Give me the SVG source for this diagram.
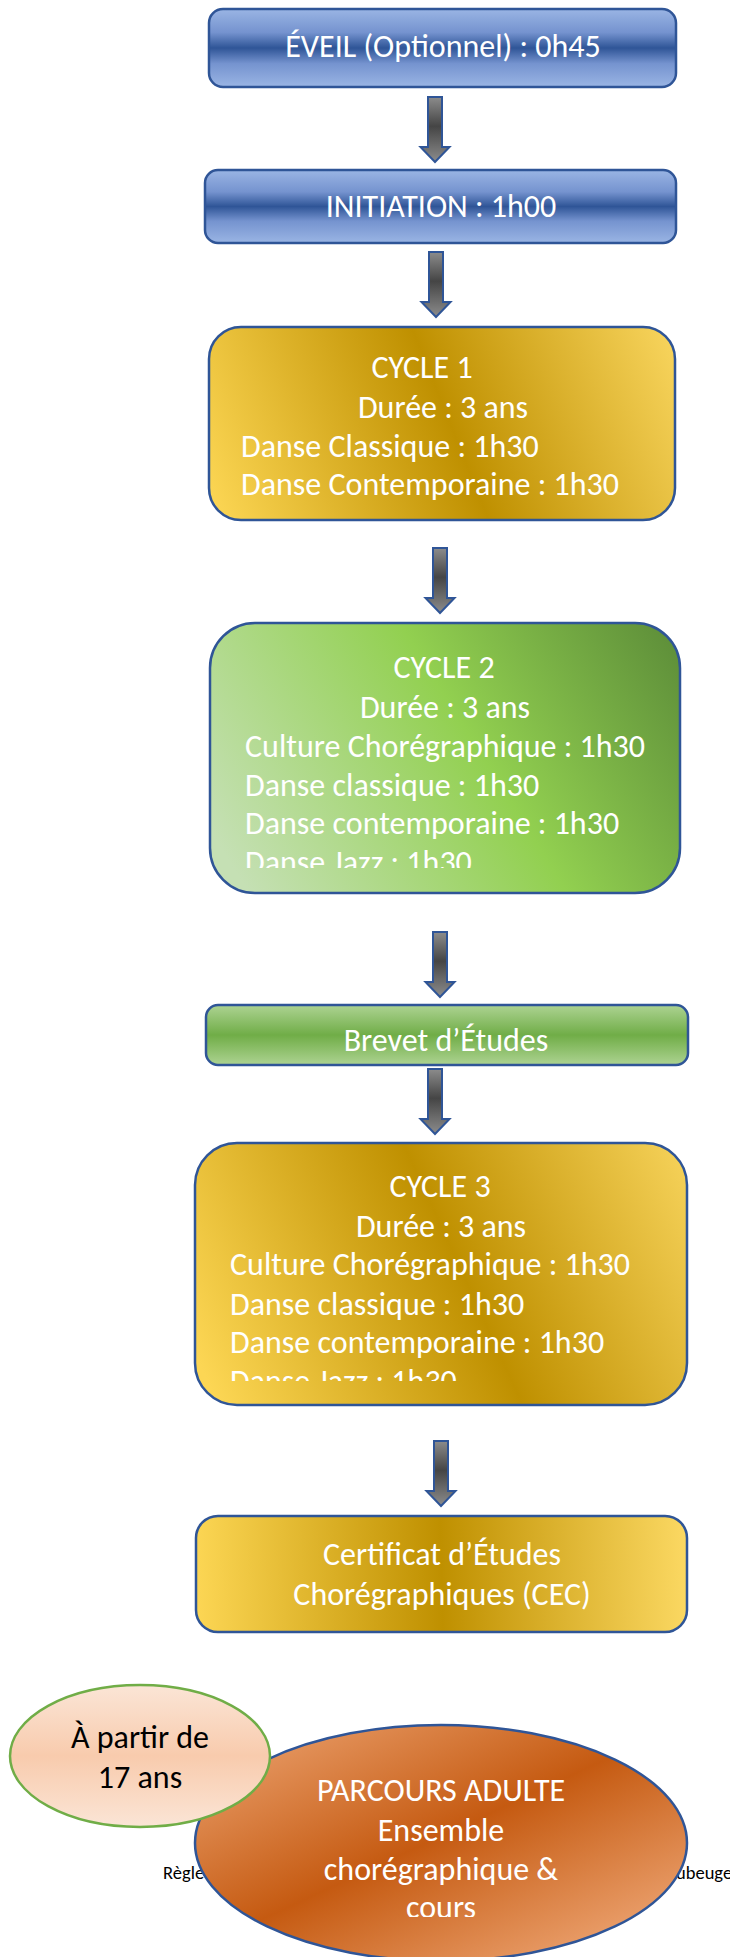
<svg xmlns="http://www.w3.org/2000/svg" width="730" height="1957" viewBox="0 0 730 1957">
<style>
.box{stroke:#2f5597;stroke-width:2.5}
.t{font-family:Carlito,Calibri,Lato,"Liberation Sans",sans-serif;font-size:32px;fill:#ffffff}
.m{text-anchor:middle}
.dk{fill:#000000}
.sm{font-size:18.5px}
.arrow{fill:url(#gArrow);stroke:#2f5597;stroke-width:2;stroke-linejoin:miter}
</style>
<defs>
<linearGradient id="gBlue" x1="0" y1="0" x2="0" y2="1">
<stop offset="0" stop-color="#9ab5e4"/>
<stop offset="0.3" stop-color="#7593cf"/>
<stop offset="0.5" stop-color="#2f5597"/>
<stop offset="0.7" stop-color="#7593cf"/>
<stop offset="1" stop-color="#9ab5e4"/>
</linearGradient>
<linearGradient id="gBrevet" x1="0" y1="0" x2="0" y2="1">
<stop offset="0" stop-color="#add392"/>
<stop offset="0.5" stop-color="#70ad47"/>
<stop offset="1" stop-color="#add392"/>
</linearGradient>
<linearGradient id="gGold1" gradientUnits="userSpaceOnUse" x1="215" y1="517" x2="685" y2="329">
<stop offset="0" stop-color="#fcd654"/>
<stop offset="0.5" stop-color="#bf9000"/>
<stop offset="1" stop-color="#fbd862"/>
</linearGradient>
<linearGradient id="gGold3" gradientUnits="userSpaceOnUse" x1="211" y1="1389" x2="715" y2="1159">
<stop offset="0" stop-color="#fcd654"/>
<stop offset="0.5" stop-color="#bf9000"/>
<stop offset="1" stop-color="#fbd862"/>
</linearGradient>
<linearGradient id="gGoldC" gradientUnits="userSpaceOnUse" x1="196" y1="1580" x2="687" y2="1568">
<stop offset="0" stop-color="#fcd654"/>
<stop offset="0.5" stop-color="#bf9000"/>
<stop offset="1" stop-color="#fbd862"/>
</linearGradient>
<linearGradient id="gGreen" gradientUnits="userSpaceOnUse" x1="253" y1="900" x2="713" y2="615">
<stop offset="0" stop-color="#c5e0b4"/>
<stop offset="0.5" stop-color="#92d050"/>
<stop offset="1" stop-color="#548235"/>
</linearGradient>
<linearGradient id="gOrange" gradientUnits="userSpaceOnUse" x1="352" y1="1645" x2="530" y2="2027">
<stop offset="0" stop-color="#f0aa7a"/>
<stop offset="0.5" stop-color="#c55a11"/>
<stop offset="1" stop-color="#f4b183"/>
</linearGradient>
<linearGradient id="gPeach" x1="0" y1="0" x2="0" y2="1">
<stop offset="0" stop-color="#fbe5d6"/>
<stop offset="0.5" stop-color="#f8cbad"/>
<stop offset="1" stop-color="#fbe5d6"/>
</linearGradient>
<linearGradient id="gArrow" x1="0" y1="0" x2="0" y2="1">
<stop offset="0" stop-color="#8c8c8c"/>
<stop offset="0.45" stop-color="#454545"/>
<stop offset="1" stop-color="#8c8c8c"/>
</linearGradient>
<path id="arrowShape" d="M-7,0 H7 V50 H14.5 L0,65 L-14.5,50 H-7 Z"/>
<clipPath id="clip2"><rect x="0" y="600" width="730" height="268"/></clipPath>
<clipPath id="clip3"><rect x="0" y="1150" width="730" height="231"/></clipPath>
<clipPath id="clipA"><rect x="0" y="1700" width="730" height="217"/></clipPath>
</defs>
<rect x="0" y="0" width="730" height="1957" fill="#ffffff"/>

<g id="connectors">
<use href="#arrowShape" class="arrow" x="435" y="97"/>
<use href="#arrowShape" class="arrow" x="436" y="252"/>
<use href="#arrowShape" class="arrow" x="440" y="548"/>
<use href="#arrowShape" class="arrow" x="440" y="932"/>
<use href="#arrowShape" class="arrow" x="435" y="1069"/>
<use href="#arrowShape" class="arrow" x="441" y="1441"/>
</g>

<g id="eveil">
<rect class="box" x="209" y="9" width="467" height="78" rx="14" fill="url(#gBlue)"/>
<text class="t m" x="443" y="57">ÉVEIL (Optionnel) : 0h45</text>
</g>

<g id="initiation">
<rect class="box" x="205" y="170" width="471" height="73" rx="13" fill="url(#gBlue)"/>
<text class="t m" x="441" y="217">INITIATION : 1h00</text>
</g>

<g id="cycle1">
<rect class="box" x="209" y="327" width="466" height="193" rx="32" fill="url(#gGold1)"/>
<text class="t m" x="422" y="378">CYCLE 1</text>
<text class="t m" x="443" y="418">Durée : 3 ans</text>
<text class="t" x="241" y="457">Danse Classique : 1h30</text>
<text class="t" x="241" y="495">Danse Contemporaine : 1h30</text>
</g>

<g id="cycle2">
<rect class="box" x="210" y="623" width="470" height="270" rx="45" fill="url(#gGreen)"/>
<text class="t m" x="444" y="678">CYCLE 2</text>
<text class="t m" x="445" y="718">Durée : 3 ans</text>
<g clip-path="url(#clip2)">
<text class="t" x="245" y="757">Culture Chorégraphique : 1h30</text>
<text class="t" x="245" y="796">Danse classique : 1h30</text>
<text class="t" x="245" y="834">Danse contemporaine : 1h30</text>
<text class="t" x="245" y="873">Danse Jazz : 1h30</text>
</g>
</g>

<g id="brevet">
<rect class="box" x="206" y="1005" width="482" height="60" rx="12" fill="url(#gBrevet)"/>
<text class="t m" x="446" y="1051">Brevet d’Études</text>
</g>

<g id="cycle3">
<rect class="box" x="195" y="1143" width="492" height="262" rx="42" fill="url(#gGold3)"/>
<text class="t m" x="440" y="1197">CYCLE 3</text>
<text class="t m" x="441" y="1237">Durée : 3 ans</text>
<g clip-path="url(#clip3)">
<text class="t" x="230" y="1275">Culture Chorégraphique : 1h30</text>
<text class="t" x="230" y="1315">Danse classique : 1h30</text>
<text class="t" x="230" y="1353">Danse contemporaine : 1h30</text>
<text class="t" x="230" y="1392">Danse Jazz : 1h30</text>
</g>
</g>

<g id="cec">
<rect class="box" x="196" y="1516" width="491" height="116" rx="22" fill="url(#gGoldC)"/>
<text class="t m" x="442" y="1565">Certificat d’Études</text>
<text class="t m" x="442" y="1605">Chorégraphiques (CEC)</text>
</g>

<g id="footer">
<text class="t dk sm" x="163" y="1879">Règle</text>
<text class="t dk sm" x="676" y="1879">ubeuge</text>
</g>

<g id="adulte">
<ellipse class="box" cx="441" cy="1843" rx="246" ry="118" fill="url(#gOrange)"/>
<g clip-path="url(#clipA)">
<text class="t m" x="441" y="1801">PARCOURS ADULTE</text>
<text class="t m" x="441" y="1841">Ensemble</text>
<text class="t m" x="441" y="1880">chorégraphique &amp;</text>
<text class="t m" x="441" y="1918">cours</text>
</g>
</g>

<g id="age">
<ellipse cx="140" cy="1756" rx="130" ry="71" fill="url(#gPeach)" stroke="#70ad47" stroke-width="2.5"/>
<text class="t m dk" x="140" y="1748">À partir de</text>
<text class="t m dk" x="140" y="1788">17 ans</text>
</g>
</svg>
